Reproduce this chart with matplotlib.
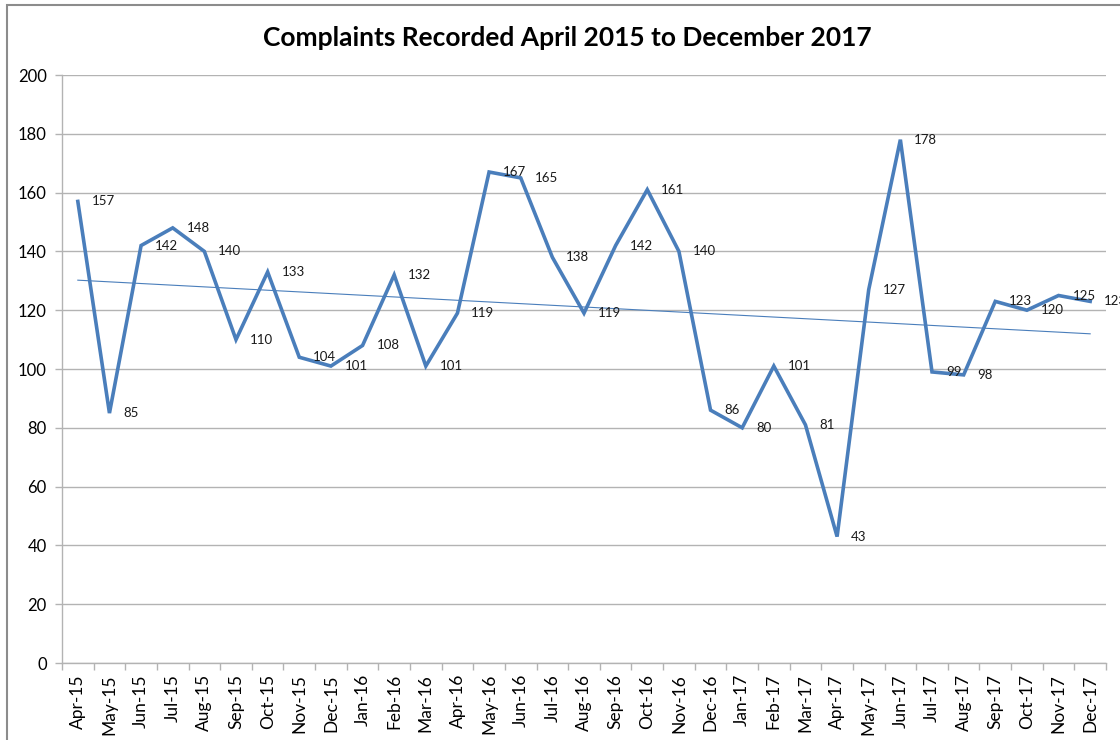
import numpy as np
import matplotlib
matplotlib.use("Agg")
import matplotlib.pyplot as plt
from matplotlib.patches import Rectangle

plt.rcParams['font.family'] = ['Lato', 'DejaVu Sans']

months = ['Apr-15', 'May-15', 'Jun-15', 'Jul-15', 'Aug-15', 'Sep-15', 'Oct-15', 'Nov-15', 'Dec-15',
          'Jan-16', 'Feb-16', 'Mar-16', 'Apr-16', 'May-16', 'Jun-16', 'Jul-16', 'Aug-16', 'Sep-16',
          'Oct-16', 'Nov-16', 'Dec-16', 'Jan-17', 'Feb-17', 'Mar-17', 'Apr-17', 'May-17', 'Jun-17',
          'Jul-17', 'Aug-17', 'Sep-17', 'Oct-17', 'Nov-17', 'Dec-17']
complaints = [157, 85, 142, 148, 140, 110, 133, 104, 101,
              108, 132, 101, 119, 167, 165, 138, 119, 142,
              161, 140, 86, 80, 101, 81, 43, 127, 178,
              99, 98, 123, 120, 125, 123]

line_col = '#4a7ebb'
grid_col = '#b3b3b3'

fig = plt.figure(figsize=(11.2, 7.4), dpi=100)
ax = fig.add_axes([62 / 1120, 1 - 663 / 740, (1106 - 62) / 1120, (663 - 75) / 740])

# outer chart frame
fig.patches.append(Rectangle((7 / 1120, -0.1), 1.2, 1 - 5 / 740 + 0.1, transform=fig.transFigure,
                             fill=False, edgecolor='#8c8c8c', linewidth=1.5))

x = np.arange(len(months))
ax.plot(x, complaints, color=line_col, linewidth=2.6, solid_joinstyle='miter', zorder=3)

# linear trend
coef = np.polyfit(x, complaints, 1)
ax.plot(x, np.polyval(coef, x), color=line_col, linewidth=0.8, zorder=2)

for xi, v in zip(x, complaints):
    ax.annotate(str(v), (xi, v), xytext=(10, 0), textcoords='offset points',
                ha='left', va='center', fontsize=9.5, color='#1a1a1a', zorder=4)

ax.set_xlim(-0.5, len(months) - 0.5)
ax.set_ylim(0, 200)
ax.set_yticks(range(0, 201, 20))
ax.set_xticks(x)
ax.set_xticklabels(months, rotation=90, fontsize=12.5)
ax.set_xticks(np.arange(-0.5, len(months), 1), minor=True)
ax.tick_params(axis='x', which='major', length=0, pad=8)
ax.tick_params(axis='x', which='minor', length=5, color=grid_col, width=1)
ax.tick_params(axis='y', length=5, color=grid_col, width=1, labelsize=12, pad=6)
ax.grid(axis='y', color=grid_col, linewidth=1)
ax.set_axisbelow(True)
for s in ['top', 'right']:
    ax.spines[s].set_visible(False)
for s in ['left', 'bottom']:
    ax.spines[s].set_color(grid_col)
    ax.spines[s].set_linewidth(1)

fig.text(567 / 1120, 1 - 38 / 740, 'Complaints Recorded April 2015 to December 2017',
         ha='center', va='center', fontsize=19, fontweight='bold')

fig.savefig('out.png', dpi=100)
